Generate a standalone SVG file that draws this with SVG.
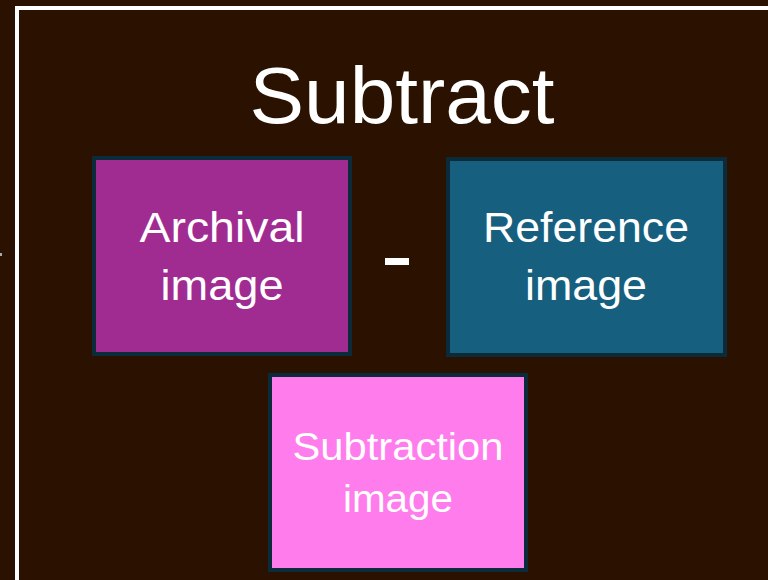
<svg xmlns="http://www.w3.org/2000/svg" width="768" height="580" viewBox="0 0 768 580">
<style>
.box{stroke:#0b2a3a;stroke-width:4}
.lbl{font-family:"Liberation Sans",Arial,sans-serif;font-size:43px;fill:#ffffff;text-anchor:middle}
.sm{font-size:38px}
.title{font-family:"Liberation Sans",Arial,sans-serif;font-size:80px;fill:#ffffff;text-anchor:middle}
</style>
<rect x="0" y="0" width="768" height="580" fill="#2a1100"/>
<rect x="17" y="8" width="800" height="640" fill="none" stroke="#ffffff" stroke-width="4"/>
<rect x="0" y="253" width="2" height="3" fill="#aaaaaa"/>
<text class="title" x="402" y="123" textLength="305" lengthAdjust="spacingAndGlyphs">Subtract</text>
<g id="archival">
<rect class="box" x="94" y="158" width="256" height="196" fill="#a02c91"/>
<text class="lbl" x="222" y="242" textLength="165" lengthAdjust="spacingAndGlyphs">Archival</text>
<text class="lbl" x="222" y="300" textLength="123" lengthAdjust="spacingAndGlyphs">image</text>
</g>
<g id="reference">
<rect class="box" x="448" y="159" width="277" height="196" fill="#175f7f"/>
<text class="lbl" x="586" y="242" textLength="206" lengthAdjust="spacingAndGlyphs">Reference</text>
<text class="lbl" x="586" y="300" textLength="122" lengthAdjust="spacingAndGlyphs">image</text>
</g>
<g id="subtraction">
<rect class="box" x="270" y="375" width="256" height="195" fill="#ff7ced"/>
<text class="lbl sm" x="398" y="460" textLength="211" lengthAdjust="spacingAndGlyphs">Subtraction</text>
<text class="lbl sm" x="398" y="512" textLength="110" lengthAdjust="spacingAndGlyphs">image</text>
</g>
<g id="connectors">
<rect x="385" y="258" width="24" height="7" fill="#ffffff"/>
</g>
</svg>
